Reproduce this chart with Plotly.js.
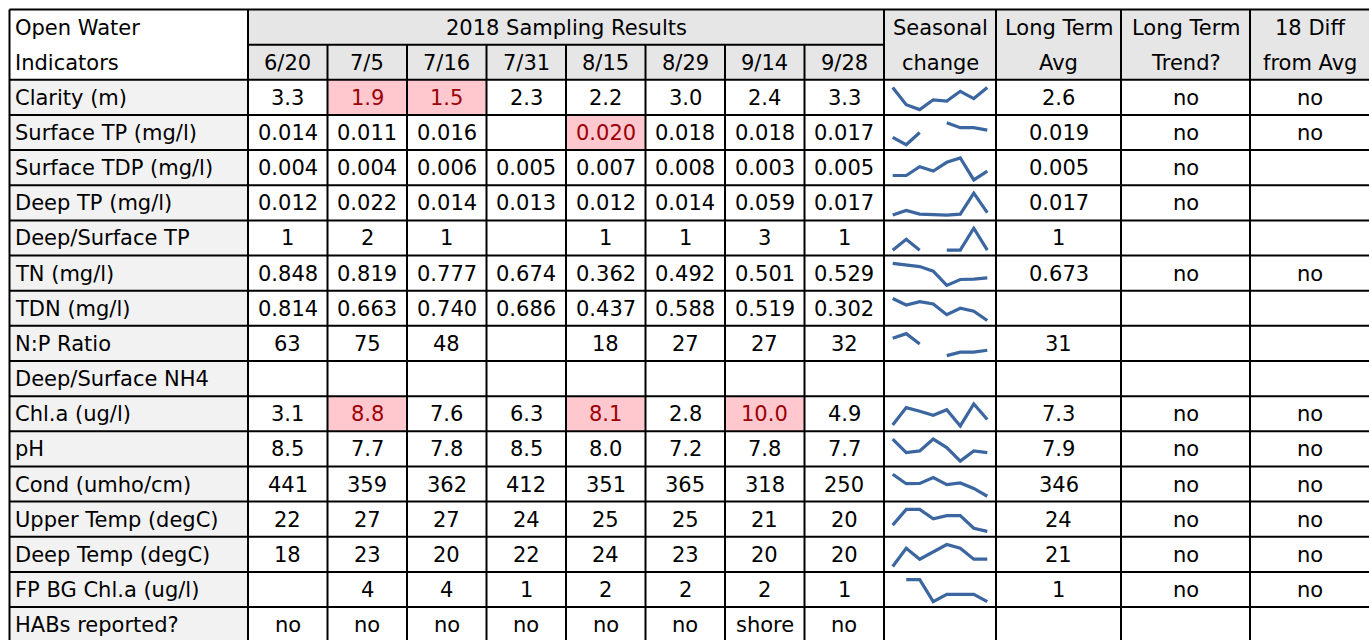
<!DOCTYPE html>
<html>
<head>
<meta charset="utf-8">
<script src="https://cdn.plot.ly/plotly-3.0.1.min.js"></script>
<style>
  html, body { margin: 0; padding: 0; background: #ffffff; }
  #chart { width: 1369px; height: 640px; }
</style>
</head>
<body>
<div id="chart"></div>
<script>
// ---------------- DATA ----------------
const dates = ['6/20', '7/5', '7/16', '7/31', '8/15', '8/29', '9/14', '9/28'];
const indicators = ['Clarity (m)', 'Surface TP (mg/l)', 'Surface TDP (mg/l)', 'Deep TP (mg/l)',
  'Deep/Surface TP', 'TN (mg/l)', 'TDN (mg/l)', 'N:P Ratio', 'Deep/Surface NH4', 'Chl.a (ug/l)',
  'pH', 'Cond (umho/cm)', 'Upper Temp (degC)', 'Deep Temp (degC)', 'FP BG Chl.a (ug/l)', 'HABs reported?'];

const clarity     = [3.3, 1.9, 1.5, 2.3, 2.2, 3.0, 2.4, 3.3];
const surfaceTP   = [0.014, 0.011, 0.016, null, 0.020, 0.018, 0.018, 0.017];
const surfaceTDP  = [0.004, 0.004, 0.006, 0.005, 0.007, 0.008, 0.003, 0.005];
const deepTP      = [0.012, 0.022, 0.014, 0.013, 0.012, 0.014, 0.059, 0.017];
const deepSurfTP  = [1, 2, 1, null, 1, 1, 3, 1];
const tn          = [0.848, 0.819, 0.777, 0.674, 0.362, 0.492, 0.501, 0.529];
const tdn         = [0.814, 0.663, 0.740, 0.686, 0.437, 0.588, 0.519, 0.302];
const npRatio     = [63, 75, 48, null, 18, 27, 27, 32];
const deepSurfNH4 = [null, null, null, null, null, null, null, null];
const chla        = [3.1, 8.8, 7.6, 6.3, 8.1, 2.8, 10.0, 4.9];
const ph          = [8.5, 7.7, 7.8, 8.5, 8.0, 7.2, 7.8, 7.7];
const cond        = [441, 359, 362, 412, 351, 365, 318, 250];
const upperTemp   = [22, 27, 27, 24, 25, 25, 21, 20];
const deepTemp    = [18, 23, 20, 22, 24, 23, 20, 20];
const fpBgChla    = [null, 4, 4, 1, 2, 2, 2, 1];
const habsReported = ['no', 'no', 'no', 'no', 'no', 'no', 'shore', 'no'];

const series = [clarity, surfaceTP, surfaceTDP, deepTP, deepSurfTP, tn, tdn, npRatio,
  deepSurfNH4, chla, ph, cond, upperTemp, deepTemp, fpBgChla];
const decimals = [1, 3, 3, 3, 0, 3, 3, 0, 0, 1, 1, 0, 0, 0, 0];

const longTermAvg   = [2.6, 0.019, 0.005, 0.017, 1, 0.673, null, 31, null, 7.3, 7.9, 346, 24, 21, 1, null];
const longTermTrend = ['no', 'no', 'no', 'no', '', 'no', '', '', '', 'no', 'no', 'no', 'no', 'no', 'no', ''];
const diffFromAvg   = ['no', 'no', '', '', '', 'no', '', '', '', 'no', 'no', 'no', 'no', 'no', 'no', ''];

// flagged cells: [row index, date index]
const flagged = [[0, 1], [0, 2], [1, 4], [9, 1], [9, 4], [9, 6]];

// ---------------- LAYOUT GEOMETRY ----------------
const W = 1369, H = 640;
const colX = [9.5, 248, 327.5, 407, 486.5, 566, 645.5, 725, 804.5, 884, 996, 1121, 1250, 1369];
const top0 = 9.5, rh = 35.15;
const rowY = r => top0 + r * rh;
const FONT = '"DejaVu Sans", "Open Sans", sans-serif';
const FS = 21;
const headFill = '#e6e6e6', labelFill = '#f2f2f2', pinkFill = '#ffc7ce', pinkText = '#9c0006';
const sparkColor = '#3b66a0';

const shapes = [];
const annotations = [];

function rect(x0, x1, y0, y1, fill) {
  shapes.push({type: 'rect', xref: 'x', yref: 'y', x0: x0, x1: x1, y0: y0, y1: y1,
    fillcolor: fill, line: {width: 0}, layer: 'below'});
}
function line(x0, y0, x1, y1, w) {
  shapes.push({type: 'line', xref: 'x', yref: 'y', x0: x0, y0: y0, x1: x1, y1: y1,
    line: {color: '#000000', width: w || 2}, layer: 'above'});
}
function text(t, x, y, opts) {
  opts = opts || {};
  annotations.push({xref: 'x', yref: 'y', x: x, y: y, text: t, showarrow: false,
    xanchor: opts.anchor || 'center', yanchor: 'middle',
    font: {family: FONT, size: FS, color: opts.color || '#000000'}});
}

const nRows = 2 + indicators.length;

// Fills
rect(colX[1], colX[9], rowY(0), rowY(2), headFill);
rect(colX[9], colX[13], rowY(0), rowY(2), headFill);
rect(colX[0], colX[1], rowY(2), rowY(nRows), labelFill);
flagged.forEach(([r, c]) => rect(colX[c + 1], colX[c + 2], rowY(r + 2), rowY(r + 3), pinkFill));

// Grid lines
line(colX[0], rowY(0), W, rowY(0));
line(colX[1], rowY(1), colX[9], rowY(1));
for (let r = 2; r <= nRows; r++) line(colX[0], rowY(r), W, rowY(r));
[0, 1, 9, 10, 11, 12].forEach(c => line(colX[c], rowY(0), colX[c], rowY(nRows)));
for (let c = 2; c <= 8; c++) line(colX[c], rowY(1), colX[c], rowY(nRows));

// Header text
const cx = c => (colX[c] + colX[c + 1]) / 2;
const cy = r => (rowY(r) + rowY(r + 1)) / 2 + 0.5;
text('Open Water', colX[0] + 3, cy(0), {anchor: 'left'});
text('Indicators', colX[0] + 3, cy(1), {anchor: 'left'});
text('2018 Sampling Results', (colX[1] + colX[9]) / 2, cy(0));
dates.forEach((d, i) => text(d, cx(i + 1), cy(1)));
text('Seasonal', cx(9), cy(0)); text('change', cx(9), cy(1));
text('Long Term', cx(10), cy(0)); text('Avg', cx(10), cy(1));
text('Long Term', cx(11), cy(0)); text('Trend?', cx(11), cy(1));
text('18 Diff', cx(12), cy(0)); text('from Avg', cx(12), cy(1));

// Body text
const isFlag = (r, c) => flagged.some(f => f[0] === r && f[1] === c);
indicators.forEach((name, r) => {
  const rr = r + 2;
  text(name, colX[0] + 3, cy(rr), {anchor: 'left'});
  if (r < series.length) {
    series[r].forEach((v, c) => {
      if (v === null) return;
      text(v.toFixed(decimals[r]), cx(c + 1), cy(rr), {color: isFlag(r, c) ? pinkText : '#000000'});
    });
  } else {
    habsReported.forEach((v, c) => text(v, cx(c + 1), cy(rr)));
  }
  if (longTermAvg[r] !== null) text(longTermAvg[r].toFixed(decimals[r] !== undefined ? decimals[r] : 0), cx(10), cy(rr));
  if (longTermTrend[r]) text(longTermTrend[r], cx(11), cy(rr));
  if (diffFromAvg[r]) text(diffFromAvg[r], cx(12), cy(rr));
});

// ---------------- SPARKLINES ----------------
const layout = {
  width: W, height: H,
  margin: {l: 0, r: 0, t: 0, b: 0},
  paper_bgcolor: '#ffffff', plot_bgcolor: 'rgba(0,0,0,0)',
  showlegend: false,
  xaxis: {range: [0, W], domain: [0, 1], visible: false, fixedrange: true},
  yaxis: {range: [H, 0], domain: [0, 1], visible: false, fixedrange: true},
  shapes: shapes, annotations: annotations
};
const traces = [{x: [0], y: [0], mode: 'markers', marker: {opacity: 0}, hoverinfo: 'skip',
  xaxis: 'x', yaxis: 'y'}];

const xFirst = 892.7, xLast = 987.3, step = (xLast - xFirst) / 7, padX = 0.2;
let k = 2;
series.forEach((vals, r) => {
  const nums = vals.filter(v => v !== null);
  if (!nums.length) return;
  const mn = Math.min(...nums), mx = Math.max(...nums);
  const span = (mx - mn) || 1;
  const pad = 0.12 * span;
  const rTop = rowY(r + 2);
  const yTopPx = rTop + 7.8 - 22 * 0.12, yBotPx = rTop + 29.8 + 22 * 0.12;
  const ax = 'xaxis' + k, ay = 'yaxis' + k;
  layout[ax] = {domain: [(xFirst - padX * step) / W, (xLast + padX * step) / W],
    range: [-padX, 7 + padX], visible: false, anchor: 'y' + k, fixedrange: true};
  layout[ay] = {domain: [1 - yBotPx / H, 1 - yTopPx / H], range: [mn - pad, mx + pad],
    visible: false, anchor: 'x' + k, fixedrange: true};
  traces.push({x: dates.map((d, i) => i), y: vals, mode: 'lines', connectgaps: false,
    line: {color: sparkColor, width: 3.2}, hoverinfo: 'skip', xaxis: 'x' + k, yaxis: 'y' + k});
  k++;
});

Plotly.newPlot('chart', traces, layout, {displayModeBar: false, staticPlot: true});
</script>
</body>
</html>
